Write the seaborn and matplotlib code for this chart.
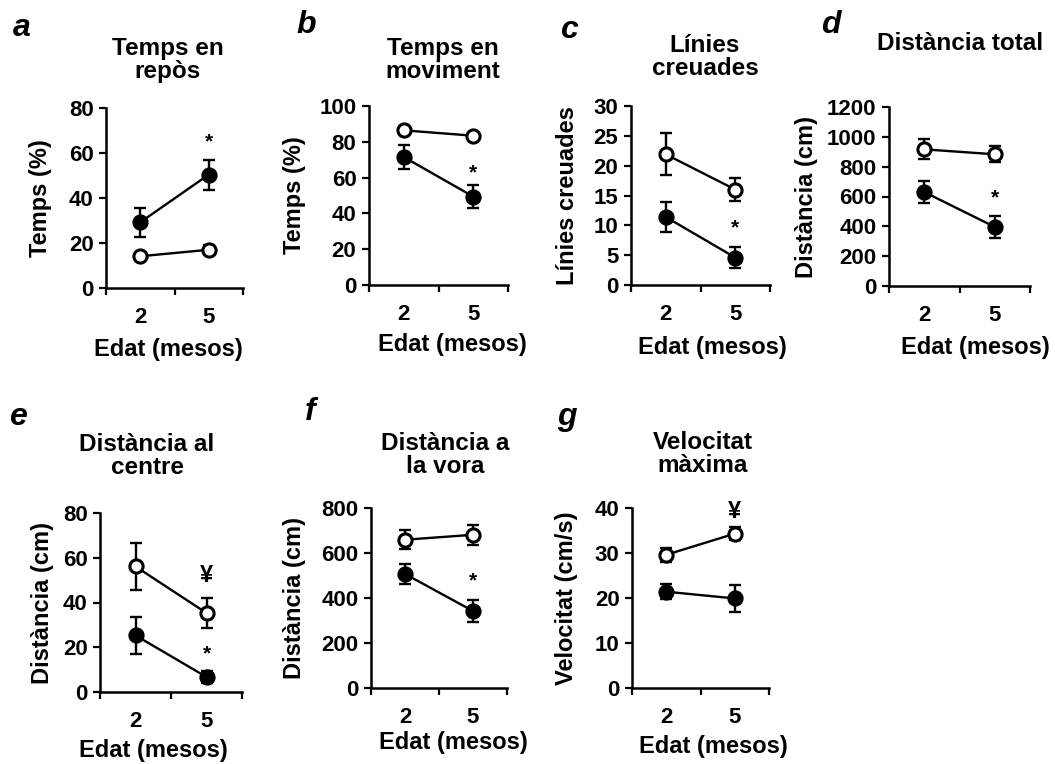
import matplotlib
matplotlib.use("Agg")
import matplotlib.pyplot as plt
import seaborn as sns
import pandas as pd

sns.set_theme(style="ticks")
plt.rcParams['font.family'] = ['Liberation Sans', 'DejaVu Sans']
plt.rcParams['font.weight'] = 'bold'
plt.rcParams['text.color'] = 'black'
plt.rcParams['axes.labelcolor'] = 'black'
plt.rcParams['xtick.color'] = 'black'
plt.rcParams['ytick.color'] = 'black'
plt.rcParams['axes.edgecolor'] = 'black'

# ---------------- data ----------------
ages = ["2", "5"]
xlabel = "Edat (mesos)"

a_open = [14.1, 17.0];   a_open_err = [1.5, 2.0]
a_filled = [29.2, 50.4]; a_filled_err = [6.5, 6.7]

b_open = [86.4, 83.4];   b_open_err = [1.0, 1.2]
b_filled = [71.5, 49.4]; b_filled_err = [6.5, 6.5]

c_open = [21.9, 16.0];   c_open_err = [3.5, 2.0]
c_filled = [11.4, 4.6];  c_filled_err = [2.5, 1.8]

d_open = [916, 883];     d_open_err = [67, 55]
d_filled = [630, 396];   d_filled_err = [75, 75]

e_open = [56.1, 35.3];   e_open_err = [10.3, 6.5]
e_filled = [25.3, 6.7];  e_filled_err = [8.2, 2.8]

f_open = [659, 681];     f_open_err = [43, 45]
f_filled = [507, 342];   f_filled_err = [46, 50]

g_open = [29.6, 34.3];   g_open_err = [1.5, 1.5]
g_filled = [21.4, 19.9]; g_filled_err = [1.7, 3.0]

letters = ["a", "b", "c", "d", "e", "f", "g"]
titles = ["Temps en\nrepòs", "Temps en\nmoviment", "Línies\ncreuades",
          "Distància total", "Distància al\ncentre", "Distància a\nla vora",
          "Velocitat\nmàxima"]
ylabels = ["Temps (%)", "Temps (%)", "Línies creuades", "Distància (cm)",
           "Distància (cm)", "Distància (cm)", "Velocitat (cm/s)"]
yticks = [[0, 20, 40, 60, 80], [0, 20, 40, 60, 80, 100],
          [0, 5, 10, 15, 20, 25, 30], [0, 200, 400, 600, 800, 1000, 1200],
          [0, 20, 40, 60, 80], [0, 200, 400, 600, 800], [0, 10, 20, 30, 40]]
# significance marks: (age index, y value, symbol)
marks = [[(1, 65, "*")], [(1, 62.5, "*")], [(1, 9.5, "*")], [(1, 590, "*")],
         [(1, 52, "¥"), (1, 17.1, "*")], [(1, 477, "*")], [(1, 39.3, "¥")]]

open_vals = [a_open, b_open, c_open, d_open, e_open, f_open, g_open]
open_errs = [a_open_err, b_open_err, c_open_err, d_open_err, e_open_err, f_open_err, g_open_err]
filled_vals = [a_filled, b_filled, c_filled, d_filled, e_filled, f_filled, g_filled]
filled_errs = [a_filled_err, b_filled_err, c_filled_err, d_filled_err, e_filled_err, f_filled_err, g_filled_err]

# ---------------- layout (pixels) ----------------
W, H = 1055, 764
# left, right, top, bottom of each axes
boxes = [(106, 243, 108, 288), (369, 508, 106, 285), (631, 770, 106, 285),
         (889, 1030, 107, 286), (100, 242, 513, 692), (371, 507, 508, 688),
         (632, 769, 508, 688)]
title_pos = [(168, 60), (443, 60), (705, 57), (960, 43), (147, 456), (445, 455), (703, 454)]
letter_pos = [(22, 28), (306, 25), (569, 30), (831, 25), (18, 417), (310, 412), (567, 417)]
ylab_x = [41, 294, 567, 806, 42, 294, 566]
xlab_pos = [(168, 350), (452, 345), (712, 347), (975, 347), (153, 750), (453, 743), (713, 747)]

fig = plt.figure(figsize=(W / 100, H / 100), dpi=100)

for i in range(7):
    l, r, t, b = boxes[i]
    ax = fig.add_axes([l / W, 1 - b / H, (r - l) / W, (b - t) / H])
    pos = [0, 1]
    df = pd.DataFrame({
        "pos": pos * 2,
        "value": list(filled_vals[i]) + list(open_vals[i]),
        "err": list(filled_errs[i]) + list(open_errs[i]),
        "group": ["filled"] * 2 + ["open"] * 2,
    })
    for grp, face in [("filled", "black"), ("open", "white")]:
        sub = df[df["group"] == grp]
        ax.errorbar(sub["pos"], sub["value"], yerr=sub["err"], fmt="none",
                    ecolor="black", elinewidth=1.7, capsize=4, capthick=1.7, zorder=2)
        sns.lineplot(data=sub, x="pos", y="value", ax=ax, color="black",
                     linewidth=1.7, marker="o", markersize=9.5,
                     markerfacecolor=face, markeredgecolor="black",
                     markeredgewidth=2.2, legend=False, zorder=3)
    ax.set_xlim(-0.5, 1.5)
    ax.set_ylim(yticks[i][0], yticks[i][-1])
    ax.set_xticks(pos)
    ax.set_xticklabels(ages)
    ax.set_xticks([-0.5, 0.5, 1.5], minor=True)
    ax.set_yticks(yticks[i])
    ax.tick_params(axis="x", which="major", length=0, pad=14, labelsize=16)
    ax.tick_params(axis="x", which="minor", length=5, width=1.6, direction="out")
    ax.tick_params(axis="y", length=5, width=1.6, pad=4, labelsize=16)
    for lab in ax.get_xticklabels() + ax.get_yticklabels():
        lab.set_fontweight("bold")
    sns.despine(ax=ax)
    for s in ["left", "bottom"]:
        ax.spines[s].set_linewidth(1.8)
        ax.spines[s].set_color("black")
    ax.spines["left"].set_zorder(5)
    for s in ax.spines.values():
        s.set_clip_on(False)
    ax.set_xlabel("")
    ax.set_ylabel(ylabels[i], fontsize=17, fontweight="bold")
    ax.yaxis.set_label_coords((ylab_x[i] - l) / (r - l), 0.5)
    ax.yaxis.label.set_verticalalignment("center")
    for (xi, yv, sym) in marks[i]:
        ax.text(pos[xi], yv, sym, ha="center", va="center",
                fontsize=15 if sym == "*" else 17, fontweight="bold")
    ax.patch.set_alpha(0)

    fig.text(title_pos[i][0] / W, 1 - title_pos[i][1] / H, titles[i],
             ha="center", va="center", fontsize=17.5, fontweight="bold",
             linespacing=1.0)
    fig.text(letter_pos[i][0] / W, 1 - letter_pos[i][1] / H, letters[i],
             ha="center", va="center", fontsize=23, fontweight="bold",
             fontstyle="italic")
    fig.text(xlab_pos[i][0] / W, 1 - xlab_pos[i][1] / H, xlabel,
             ha="center", va="center", fontsize=17, fontweight="bold")

fig.savefig("out.png", dpi=100)
